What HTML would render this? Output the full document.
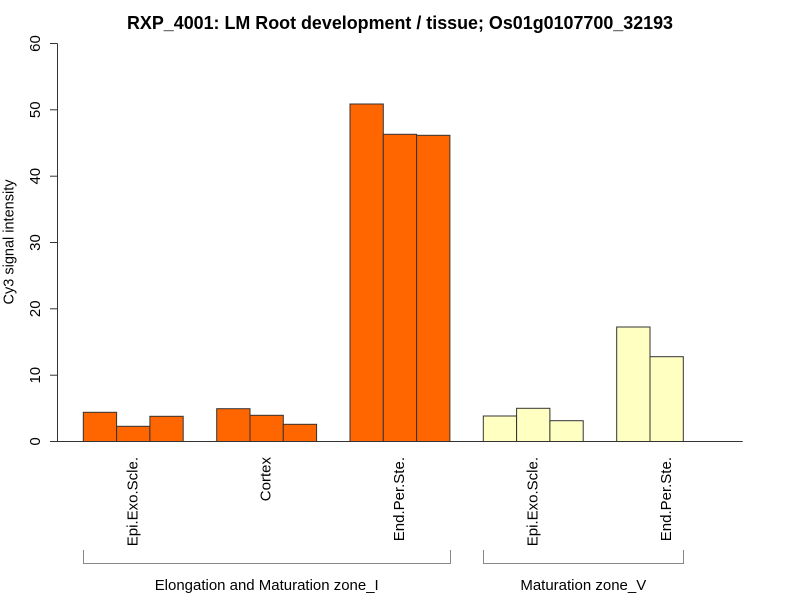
<!DOCTYPE html>
<html>
<head>
<meta charset="utf-8">
<style>
html,body{margin:0;padding:0;background:#fff;}
svg{display:block;}
text{font-family:"Liberation Sans",Arial,sans-serif;fill:#000;}
</style>
</head>
<body>
<svg width="800" height="600" viewBox="0 0 800 600" xmlns="http://www.w3.org/2000/svg">
<rect x="0" y="0" width="800" height="600" fill="#fff"/>
<!-- title -->
<text x="400" y="29" font-size="18" font-weight="bold" text-anchor="middle" textLength="546" lengthAdjust="spacingAndGlyphs">RXP_4001: LM Root development / tissue; Os01g0107700_32193</text>

<!-- y axis -->
<g stroke="#333" stroke-width="1" fill="none">
<line x1="57.5" y1="43.5" x2="57.5" y2="441.5"/>
<line x1="50" y1="441.5" x2="57.5" y2="441.5"/>
<line x1="50" y1="375.2" x2="57.5" y2="375.2"/>
<line x1="50" y1="308.8" x2="57.5" y2="308.8"/>
<line x1="50" y1="242.5" x2="57.5" y2="242.5"/>
<line x1="50" y1="176.2" x2="57.5" y2="176.2"/>
<line x1="50" y1="109.8" x2="57.5" y2="109.8"/>
<line x1="50" y1="43.5" x2="57.5" y2="43.5"/>
</g>
<g font-size="15" text-anchor="middle">
<text transform="translate(40,441.5) rotate(-90)">0</text>
<text transform="translate(40,375.2) rotate(-90)">10</text>
<text transform="translate(40,308.8) rotate(-90)">20</text>
<text transform="translate(40,242.5) rotate(-90)">30</text>
<text transform="translate(40,176.2) rotate(-90)">40</text>
<text transform="translate(40,109.8) rotate(-90)">50</text>
<text transform="translate(40,43.5) rotate(-90)">60</text>
<text transform="translate(13.5,242) rotate(-90)" font-size="14.5">Cy3 signal intensity</text>
</g>

<!-- bars -->
<g stroke="#333" stroke-width="1">
<g fill="#FF6600">
<rect x="83.3" y="412.3" width="33.3" height="29.2"/>
<rect x="116.6" y="426.3" width="33.3" height="15.2"/>
<rect x="149.9" y="416.3" width="33.3" height="25.2"/>
<rect x="216.7" y="408.7" width="33.3" height="32.8"/>
<rect x="250" y="415.3" width="33.3" height="26.2"/>
<rect x="283.3" y="424.3" width="33.3" height="17.2"/>
<rect x="350" y="104" width="33.3" height="337.5"/>
<rect x="383.3" y="134.3" width="33.3" height="307.2"/>
<rect x="416.6" y="135.3" width="33.3" height="306.2"/>
</g>
<g fill="#FFFFC2">
<rect x="483.3" y="416" width="33.3" height="25.5"/>
<rect x="516.6" y="408.3" width="33.3" height="33.2"/>
<rect x="549.9" y="420.7" width="33.3" height="20.8"/>
<rect x="616.7" y="327" width="33.3" height="114.5"/>
<rect x="650" y="356.7" width="33.3" height="84.8"/>
</g>
</g>
<line x1="57" y1="441.5" x2="742.7" y2="441.5" stroke="#333" stroke-width="1"/>

<!-- x labels -->
<g font-size="15" text-anchor="end">
<text transform="translate(137.5,457) rotate(-90)">Epi.Exo.Scle.</text>
<text transform="translate(270.5,457) rotate(-90)">Cortex</text>
<text transform="translate(404,457) rotate(-90)">End.Per.Ste.</text>
<text transform="translate(537.5,457) rotate(-90)">Epi.Exo.Scle.</text>
<text transform="translate(671,457) rotate(-90)">End.Per.Ste.</text>
</g>

<!-- brackets -->
<g stroke="#888" stroke-width="1" fill="none">
<path d="M83.5,550 V563.5 H450.5 V550"/>
<path d="M483.5,550 V563.5 H683.5 V550"/>
</g>
<g font-size="15" text-anchor="middle">
<text x="266.7" y="590" textLength="224" lengthAdjust="spacingAndGlyphs">Elongation and Maturation zone_I</text>
<text x="583.3" y="590">Maturation zone_V</text>
</g>
</svg>
</body>
</html>
